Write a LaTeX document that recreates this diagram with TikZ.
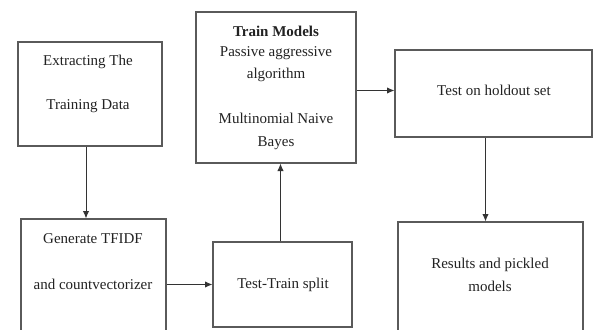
\documentclass[tikz,border=0pt]{standalone}
\usepackage{fontspec}
\setmainfont{Liberation Serif}
\usetikzlibrary{arrows.meta, positioning, calc}
\definecolor{boxline}{HTML}{5A5A5A}
\definecolor{txtgray}{HTML}{222222}
\tikzset{
  stagebox/.style={draw=boxline, line width=1.2pt, inner sep=0pt, fill=white},
  lbl/.style={font=\fontsize{15}{17}\selectfont, text=txtgray, inner sep=0pt, anchor=center},
  flow/.style={-{Latex[length=2.6mm, width=2.2mm]}, line width=0.8pt, draw=black!80},
}

\begin{document}
\begin{tikzpicture}[x=1pt, y=-1pt]
  \clip (0,0) rectangle (593,329);
  \fill[white] (0,0) rectangle (593,329);
  % boxes
  \node[stagebox, minimum width=144pt, minimum height=104pt] (extract) at (90,94) {};
  \node[stagebox, minimum width=160pt, minimum height=151pt] (train) at (276,87.5) {};
  \node[stagebox, minimum width=197pt, minimum height=87pt] (holdout) at (493.5,93.5) {};
  \node[stagebox, minimum width=145pt, minimum height=126pt] (tfidf) at (93.5,282) {};
  \node[stagebox, minimum width=139pt, minimum height=85pt] (split) at (282.5,284.5) {};
  \node[stagebox, minimum width=185pt, minimum height=123pt] (results) at (490.5,283.5) {};
  % texts
  \foreach \n/\x/\y/\t in {ex1/88/62/{Extracting The}, ex2/88/106/{Training Data},
      tr2/276/53/{Passive aggressive}, tr3/276/75/{algorithm},
      tr4/276/118/{Multinomial Naive}, tr5/276/143/{Bayes},
      ho1/494/90/{Test on holdout set},
      tf1/93/239/{Generate TFIDF}, tf2/93/284/{and countvectorizer},
      sp1/283/285/{Test-Train split},
      re1/490/265/{Results and pickled}, re2/490/286/{models}}{
    \node[lbl] (\n) at (\x,\y) {\t};}
  \node[lbl, font=\fontsize{15}{17}\selectfont\bfseries] (tr1) at (276,31) {Train Models};
  % arrows
  \draw[flow] ([xshift=-4pt]extract.south) -- ([xshift=-4pt]extract.south |- tfidf.north);
  \draw[flow] (split.west -| tfidf.east) -- (split.west);
  \draw[flow] ([xshift=-2pt]split.north) -- ([xshift=-2pt]split.north |- train.south);
  \draw[flow] ([yshift=-3pt]train.east) -- ([yshift=-3pt]train.east -| holdout.west);
  \draw[flow] ([xshift=-8pt]holdout.south) -- ([xshift=-8pt]holdout.south |- results.north);
\end{tikzpicture}
\end{document}
